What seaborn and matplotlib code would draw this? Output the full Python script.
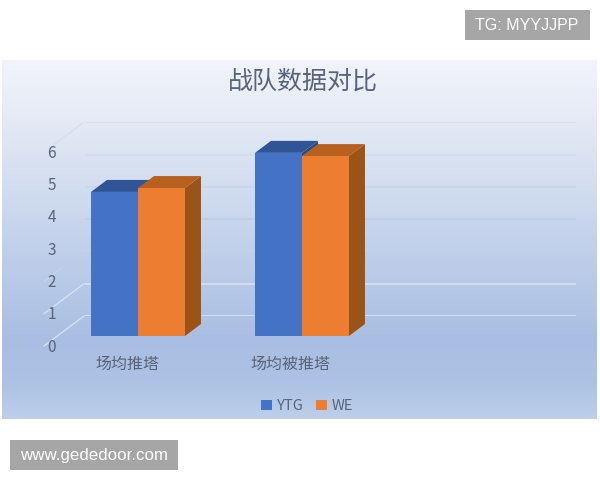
import numpy as np
import pandas as pd
import matplotlib
matplotlib.use('Agg')
import matplotlib.pyplot as plt
from matplotlib.colors import LinearSegmentedColormap
from matplotlib.patches import Polygon, Rectangle
import seaborn as sns

# 데이터
categories = ['场均推塔', '场均被推塔']
teams = ['YTG', 'WE']
ytg_values = [4.46, 5.67]
we_values = [4.58, 5.57]
y_ticks = [0, 1, 2, 3, 4, 5, 6]

title = '战队数据对比'
mark_top = 'TG: MYYJJPP'
mark_bottom = 'www.gededoor.com'

df = pd.DataFrame({
    'category': categories * 2,
    'team': [teams[0]] * 2 + [teams[1]] * 2,
    'value': ytg_values + we_values,
})

sns.set_theme(style='white')
plt.rcParams['font.family'] = ['Noto Sans CJK SC', 'DejaVu Sans']

W, H = 600, 480
UNIT = 32.3  # 값 1당 픽셀
TEXT = '#59637a'
fig = plt.figure(figsize=(W / 100, H / 100), dpi=100, facecolor='white')


def px_axes(left, right, base_y, zorder):
    # 픽셀 좌표로 축 위치 지정 (y축 0 ~ 6)
    a = fig.add_axes([left / W, 1 - base_y / H, (right - left) / W, 6 * UNIT / H], zorder=zorder)
    a.patch.set_alpha(0)
    a.set_ylim(0, 6)
    return a


# 배경 (그라데이션 패널, 워터마크, 측면 격자선)
bg = fig.add_axes([0, 0, 1, 1], zorder=0)
bg.set_xlim(0, W)
bg.set_ylim(H, 0)
bg.set_axis_off()
cmap = LinearSegmentedColormap.from_list('panel', [
    (0.0, '#f1f4fa'), (0.15, '#e6ebf5'), (0.42, '#cbd8ee'),
    (0.78, '#a9bee2'), (0.9, '#adc2e4'), (1.0, '#bccfea')])
grad = np.linspace(0, 1, 256).reshape(-1, 1)
bg.imshow(grad, cmap=cmap, extent=(2, 597, 419, 60), aspect='auto', vmin=0, vmax=1)
bg.set_xlim(0, W)
bg.set_ylim(H, 0)

bg.add_patch(Rectangle((465, 10), 125, 30, color='#a6a6a6', lw=0))
bg.text(527, 25.5, mark_top, color='white', fontsize=11.5, ha='center', va='center', family='Liberation Sans')
bg.add_patch(Rectangle((10, 440), 168, 30, color='#a6a6a6', lw=0))
bg.text(94, 455.5, mark_bottom, color='white', fontsize=12.2, ha='center', va='center', family='Liberation Sans')

grid_colors = ['#d5e0f2', '#d5e0f2', '#c4d2ea', '#c0cfe8', '#c9d6ec', '#d3dced', '#d8dfec']
for v, c in zip(y_ticks, grid_colors):
    if v in (3, 4, 5):
        continue
    x0, x1 = (50, 83) if v == 6 else (44, 84)
    if v == 2:
        x1 = 63
    y_back = 316 - v * UNIT
    bg.plot([x0, x1], [y_back + (84 - x0) * 0.75, y_back + (84 - x1) * 0.75], color=c, lw=1)

# 뒤쪽 벽 격자선
wall = px_axes(85, 576, 316, 1)
wall.set_axis_off()
for v, c in zip(y_ticks, grid_colors):
    wall.axhline(v, color=c, lw=1.3)

# 앞쪽 축: 눈금 라벨
front = px_axes(62, 576, 345, 2)
front.set_xlim((62 - 127) / 163, (576 - 127) / 163)
front.set_yticks(y_ticks)
front.set_xticks(range(len(categories)))
front.set_xticklabels(categories)
front.tick_params(axis='y', length=0, pad=4.5, labelsize=11, labelcolor=TEXT)
front.tick_params(axis='x', length=0, pad=8, labelsize=11.5, labelcolor=TEXT)
sns.despine(ax=front, left=True, bottom=True)

# 막대
ax = px_axes(56, 384, 336, 3)
sns.barplot(data=df, x='category', y='value', hue='team', hue_order=teams,
            palette=['#4472c4', '#ed7d31'], saturation=1, width=0.573, gap=0,
            linewidth=0, ax=ax)
ax.set_xlim(-0.5, 1.5)
ax.set_ylim(0, 6)
ax.set_axis_off()

# 3D 윗면 / 옆면
DX, DY = 16 / 164, 12 / UNIT
top_colors = ['#2f5597', '#b8601f']
side_colors = ['#2a4d8a', '#9c5318']
n = len(categories)
for i, bar in enumerate(ax.patches[:2 * n]):
    team_i = i // n
    x0, x1 = bar.get_x(), bar.get_x() + bar.get_width()
    h = bar.get_height()
    z = bar.get_zorder() - 0.2 + team_i * 0.1
    ax.add_patch(Polygon([(x1, 0), (x1 + DX, DY), (x1 + DX, h + DY), (x1, h)],
                         color=side_colors[team_i], lw=0, clip_on=False, zorder=z))
    ax.add_patch(Polygon([(x0, h), (x0 + DX, h + DY), (x1 + DX, h + DY), (x1, h)],
                         color=top_colors[team_i], lw=0, clip_on=False, zorder=z))

sns.move_legend(ax, 'center', bbox_to_anchor=(307 / W, 1 - 406 / H), bbox_transform=fig.transFigure,
                ncol=2, frameon=False, title=None, fontsize=10.5, labelcolor=TEXT,
                handlelength=0.75, handleheight=0.75, handletextpad=0.35, columnspacing=0.8)

fig.text(303 / W, 1 - 82 / H, title, fontsize=18, color=TEXT, ha='center', va='center')

fig.savefig('out.png', dpi=100)
